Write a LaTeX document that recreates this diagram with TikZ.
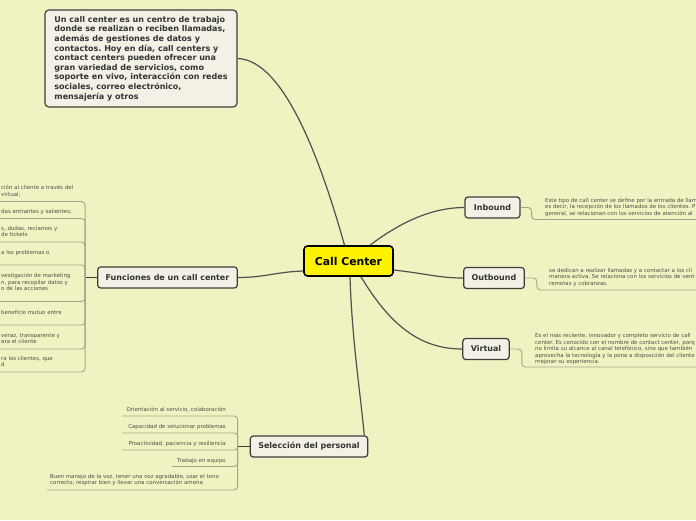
\documentclass[tikz,border=0pt]{standalone}
\usepackage{fontspec}
\setmainfont{DejaVu Sans}
\usetikzlibrary{calc}
\frenchspacing
\definecolor{bg}{HTML}{F1F2C1}
\definecolor{nodefill}{HTML}{F3F1E6}
\definecolor{edgecol}{HTML}{3C3C3C}
\definecolor{conncol}{HTML}{505050}
\definecolor{subline}{HTML}{A5A58F}
\definecolor{subtext}{HTML}{4E4E46}
\definecolor{ccyellow}{HTML}{FFF200}
\definecolor{txt}{HTML}{333333}
\begin{document}
\frenchspacing
\begin{tikzpicture}[x=1pt,y=-1pt,
  topic/.style={draw=edgecol, fill=nodefill, line width=1.2pt, rounded corners=3pt, text=txt,
    font=\bfseries\fontsize{8}{9.6}\selectfont, inner xsep=8pt, minimum height=21pt},
  mainnode/.style={draw=black, fill=ccyellow, line width=1.6pt, rounded corners=3.5pt, text=black,
    font=\bfseries\fontsize{10.8}{13}\selectfont, minimum width=89pt, minimum height=30pt, inner sep=0pt},
  descnode/.style={topic, align=left, inner xsep=9.5pt, inner ysep=5pt, rounded corners=4pt},
  small/.style={font=\fontsize{5.45}{6.5}\selectfont, text=subtext, align=left, inner sep=0pt},
  link/.style={draw=conncol, line width=1.2pt},
  stub/.style={draw=edgecol, line width=1pt},
  sub/.style={draw=subline, line width=0.9pt, rounded corners=3.5pt}
]
\fill[bg] (0,0) rectangle (696,520);
\useasboundingbox (0,0) rectangle (696,520);
\clip (0,0) rectangle (696,520);

% main nodes
\node[mainnode] (cc) at (348.5,261) {Call Center};
\node[descnode, minimum height=97pt, minimum width=192pt] (desc) at (141,58.5) {Un call center es un centro de trabajo\\donde se realizan o reciben llamadas,\\además de gestiones de datos y\\contactos. Hoy en día, call centers y\\contact centers pueden ofrecer una\\gran variedad de servicios, como\\soporte en vivo, interacción con redes\\sociales, correo electrónico,\\mensajería y otros};
\node[topic, minimum width=139pt] (fun) at (167.5,277.5) {Funciones de un call center};
\node[topic, minimum width=55pt] (inb) at (492.5,207.5) {Inbound};
\node[topic, minimum width=60pt] (outb) at (494,278) {Outbound};
\node[topic, minimum width=46pt] (virt) at (486,349) {Virtual};
\node[topic, minimum width=116pt] (sel) at (309,446.5) {Selección del personal};

% connectors from Call Center
\draw[link] (desc.east) .. controls (285,60) and (322,165) .. ($(cc.north)+(-4,0)$);
\draw[link] ($(cc.north)+(21.5,0)$) .. controls (398,224) and (430,207.5) .. (inb.west);
\draw[link] ($(cc.east)+(0,9)$) .. controls (428,274) and (440,278) .. (outb.west);
\draw[link] ($(cc.west)+(0,10)$) .. controls (275,272) and (265,277.5) .. (fun.east);
\draw[link] ($(cc.south)+(12.5,0)$) .. controls (390,325) and (420,349) .. (virt.west);
\draw[link] ($(cc.south)+(1.5,0)$) .. controls (352,340) and (360,390) .. ($(sel.north east)+(-4,0)$);

% Funciones sub items
\draw[stub] (fun.west) -- ++(-12,0) coordinate (fj);
\foreach \i/\yy in {1/201.5,2/218.5,3/242,4/265,5/301.5,6/325,7/349,8/372}{
  \coordinate (f\i) at (-3,\yy);
  \draw[sub] (fj) |- (f\i);
}
\node[small, anchor=north west] (ft1) at (1,185) {ción al cliente a través del\\virtual;};
\node[small, anchor=north west] (ft2) at (1,209) {das entrantes y salientes;};
\node[small, anchor=north west] (ft3) at (1,226) {s, dudas, reclamos y\\de tickets};
\node[small, anchor=north west] (ft4) at (1,250) {a los problemas o};
\node[small, anchor=north west] (ft5) at (1,273) {vestigación de marketing\\n, para recopilar datos y\\o de las acciones};
\node[small, anchor=north west] (ft6) at (1,310) {beneficio mutuo entre};
\node[small, anchor=north west] (ft7) at (1,333) {veraz, transparente y\\ara el cliente};
\node[small, anchor=north west] (ft8) at (1,356) {ra los clientes, que\\d};

% Seleccion sub items
\draw[stub] (sel.west) -- ++(-12,0) coordinate (sj);
\coordinate (s1) at (122,416);
\coordinate (s2) at (122,433);
\coordinate (s3) at (122,450);
\coordinate (s4) at (172,466.5);
\coordinate (s5) at (47,490);
\foreach \i in {1,...,5}{ \draw[sub] (sj) |- (s\i); }
\node[small, anchor=north east] (st1) at (226,407) {Orientación al servicio, colaboración};
\node[small, anchor=north east] (st2) at (226,424) {Capacidad de solucionar problemas};
\node[small, anchor=north east] (st3) at (226,441) {Proactividad, paciencia y resiliencia};
\node[small, anchor=north east] (st4) at (226,458) {Trabajo en equipo};
\node[small, anchor=north west] (st5) at (50,474) {Buen manejo de la voz, tener una voz agradable, usar el tono\\correcto, respirar bien y llevar una conversación amena};

% Right side details
\coordinate (ie) at (700,219.5);
\coordinate (oe) at (700,290);
\coordinate (ve) at (700,367);
\draw[sub] (inb.east) -- ++(11,0) |- (ie);
\draw[sub] (outb.east) -- ++(12,0) |- (oe);
\draw[sub] (virt.east) -- ++(12,0) |- (ve);
\node[small, anchor=north west] (it) at (545,198) {Este tipo de call center se define por la entrada de llam\\es decir, la recepción de los llamados de los clientes. P\\general, se relacionan con los servicios de atención al};
\node[small, anchor=north west] (ot) at (549,268) {se dedican a realizar llamadas y a contactar a los cli\\manera activa. Se relaciona con los servicios de vent\\remotas y cobranzas.};
\node[small, anchor=north west] (vt) at (535,333) {Es el más reciente, innovador y completo servicio de call\\center. Es conocido con el nombre de contact center, porq\\no limita su alcance al canal telefónico, sino que también\\aprovecha la tecnología y la pone a disposición del cliente\\mejorar su experiencia.};
\end{tikzpicture}
\end{document}
